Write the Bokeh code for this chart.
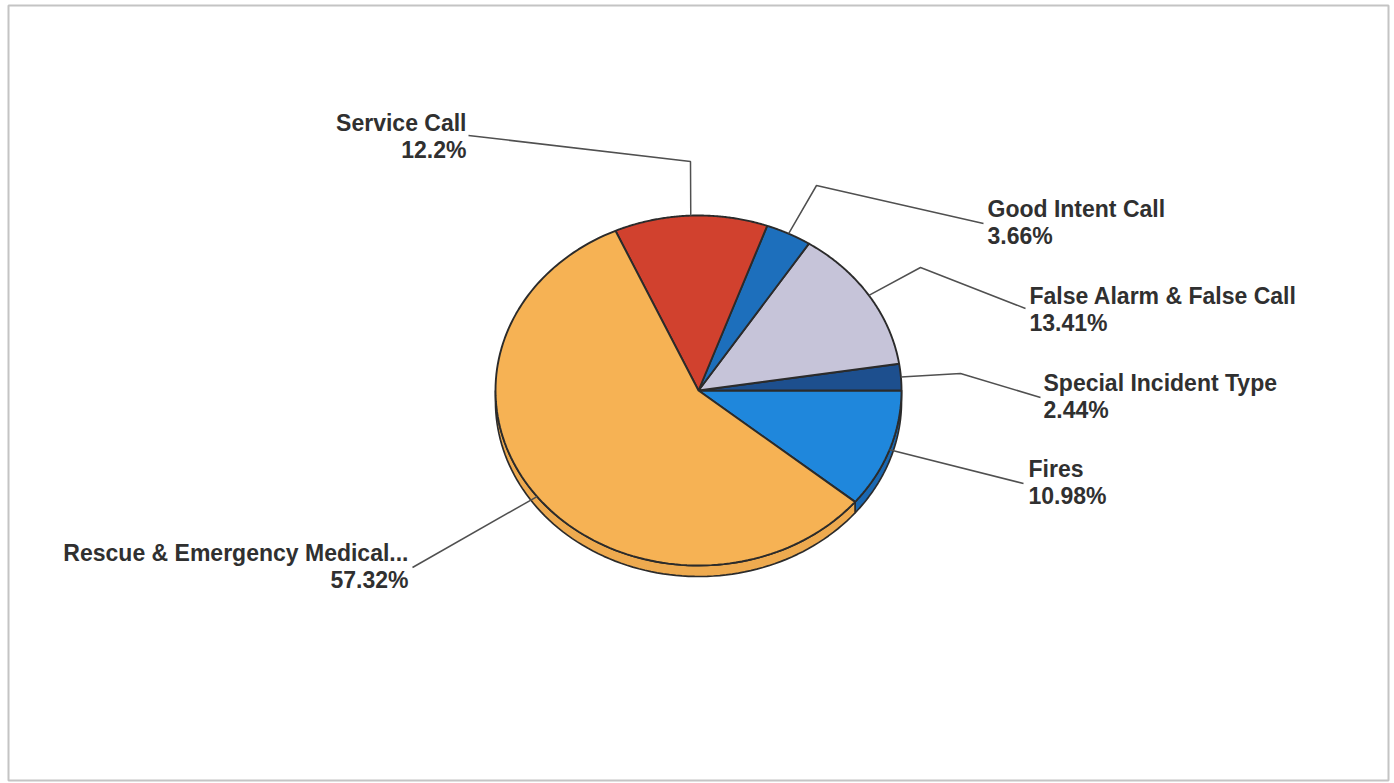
import numpy as np
from bokeh.plotting import figure
from bokeh.models import ColumnDataSource, Range1d
from bokeh.core.properties import value
from bokeh.embed import file_html
from bokeh.resources import INLINE

# ---- data (counter-clockwise order, Fires ends at 3 o'clock) ----
categories = ["Fires", "Special Incident Type", "False Alarm & False Call",
              "Good Intent Call", "Service Call", "Rescue & Emergency Medical..."]
percents = [10.98, 2.44, 13.41, 3.66, 12.2, 57.32]
colors = ["#1f87dc", "#1d4f8e", "#c6c4d9", "#1d6fbc", "#d1412e", "#f6b254"]
side_colors = ["#1a68b2", "#163c6d", "#9f9db3", "#175999", "#a83424", "#eeaa4f"]

# ---- layout (screen pixels) ----
CX, CY, RX, RY, DEPTH = 698, 390, 203, 175, 11
FONT = "23px"
LINE_GAP = 27
# label anchor: (x, y of first line, align)
label_pos = [(1028, 468, "left"), (1043, 382, "left"), (1029, 295, "left"),
             (987, 208, "left"), (466, 122, "right"), (408, 552, "right")]
# leader lines: elbow points (None when straight) and end points
leader_elbow = [None, (960, 373), (920, 267), (816, 185), (690, 161), None]
leader_end = [(1023, 483), (1040, 397), (1025, 308), (983, 223), (468, 135), (412, 567)]

total = sum(percents)
fr = np.array(percents) / total
start = -fr[0] * 2 * np.pi
bounds = start + np.concatenate([[0], np.cumsum(fr)]) * 2 * np.pi


def ell(t, dy=0.0):
    return CX + RX * np.cos(t), CY - RY * np.sin(t) + dy


p = figure(width=1394, height=783, output_backend="svg", toolbar_location=None,
           x_range=Range1d(8, 1388), y_range=Range1d(780, 5),
           x_axis_location=None, y_axis_location=None,
           min_border_left=8, min_border_right=6, min_border_top=5, min_border_bottom=3)
p.grid.visible = False
p.outline_line_color = "#c4c4c4"
p.outline_line_width = 2
p.background_fill_color = "white"
p.border_fill_color = "white"

# ---- 3D side ----
sxs, sys_, scol = [], [], []
for i in range(len(percents)):
    a0, a1 = bounds[i], bounds[i + 1]
    for lo, hi in [(-np.pi, 0.0), (np.pi, 2 * np.pi)]:
        s, e = max(a0, lo), min(a1, hi)
        if e > s:
            t = np.linspace(s, e, 80)
            x1, y1 = ell(t)
            x2, y2 = ell(t[::-1], DEPTH)
            sxs.append(list(np.concatenate([x1, x2])))
            sys_.append(list(np.concatenate([y1, y2])))
            scol.append(side_colors[i])
p.patches("xs", "ys", source=ColumnDataSource(dict(xs=sxs, ys=sys_, c=scol)),
          fill_color="c", line_color="#2b2b2b", line_width=1.7)

# ---- top slices ----
xs, ys = [], []
for i in range(len(percents)):
    t = np.linspace(bounds[i], bounds[i + 1], 120)
    x, y = ell(t)
    xs.append([CX] + list(x) + [CX])
    ys.append([CY] + list(y) + [CY])
p.patches("xs", "ys", source=ColumnDataSource(dict(xs=xs, ys=ys, c=colors)),
          fill_color="c", line_color="#2b2b2b", line_width=1.9)

# ---- leader lines ----
lxs, lys = [], []
for i in range(len(percents)):
    mid = (bounds[i] + bounds[i + 1]) / 2
    px, py = ell(mid)
    ptsx, ptsy = [float(px)], [float(py)]
    if leader_elbow[i] is not None:
        ptsx.append(leader_elbow[i][0]); ptsy.append(leader_elbow[i][1])
    ptsx.append(leader_end[i][0]); ptsy.append(leader_end[i][1])
    lxs.append(ptsx); lys.append(ptsy)
p.multi_line(lxs, lys, line_color="#505050", line_width=1.5)

# ---- labels ----
tx, ty, tt, ta = [], [], [], []
for i, name in enumerate(categories):
    x, y, al = label_pos[i]
    tx += [x, x]
    ty += [y, y + LINE_GAP]
    tt += [name, f"{percents[i]:g}%"]
    ta += [al, al]
p.text("x", "y", "t", source=ColumnDataSource(dict(x=tx, y=ty, t=tt, a=ta)),
       text_align="a", text_baseline="middle",
       text_font=value("Liberation Sans"), text_font_style="bold",
       text_font_size=FONT, text_color="#303030")

open("out.html", "w").write(file_html(p, INLINE))
